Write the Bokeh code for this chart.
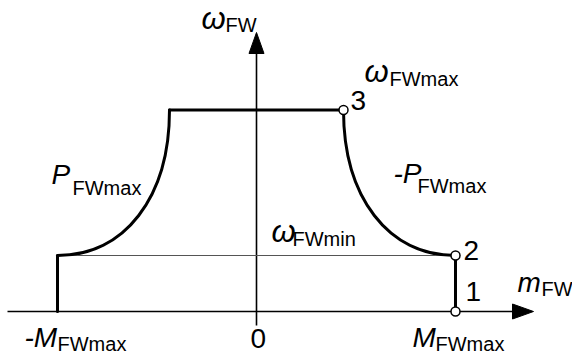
from bokeh.plotting import figure
from bokeh.models import Range1d
from bokeh.core.properties import value
from bokeh.embed import file_html
from bokeh.resources import INLINE

# ---- data (chart units) ----
M_FWMAX = 199.0          # torque limit (points 1, 2)
W_FWMIN = 56.0           # minimum speed (point 2 / omega_min line)
W_FWMAX = 201.5          # maximum speed (point 3)
M_AT_WMAX = 87.0         # torque at maximum speed (point 3)

points_m = [M_FWMAX, M_FWMAX, M_AT_WMAX]
points_w = [0.0, W_FWMIN, W_FWMAX]
point_labels = ["1", "2", "3"]

# axis extents
X_AXIS_MIN, X_AXIS_TIP = -249, 277
Y_AXIS_MIN, Y_AXIS_TIP = -14, 279

# ---- figure ----
p = figure(width=572, height=356, x_range=Range1d(-256, 316), y_range=Range1d(-45, 311),
           output_backend="svg", toolbar_location=None,
           x_axis_location=None, y_axis_location=None, min_border=0)
p.grid.grid_line_color = None
p.outline_line_color = None
p.background_fill_color = "white"

FONT = value("Liberation Sans")

# axes with arrow heads
ARROW_LEN, ARROW_HALF = 21, 7.5
p.line([X_AXIS_MIN, X_AXIS_TIP - ARROW_LEN], [0, 0], line_color="black", line_width=1.6)
p.line([0, 0], [Y_AXIS_MIN, Y_AXIS_TIP - ARROW_LEN], line_color="black", line_width=1.6)
p.patch([X_AXIS_TIP - ARROW_LEN, X_AXIS_TIP, X_AXIS_TIP - ARROW_LEN],
        [ARROW_HALF, 0, -ARROW_HALF], fill_color="black", line_color="black", line_width=1)
p.patch([-ARROW_HALF, 0, ARROW_HALF],
        [Y_AXIS_TIP - ARROW_LEN, Y_AXIS_TIP, Y_AXIS_TIP - ARROW_LEN],
        fill_color="black", line_color="black", line_width=1)

# thin omega_min line
p.line([-M_FWMAX, M_FWMAX], [W_FWMIN, W_FWMIN], line_color="#555555", line_width=1.2)

# thick operating envelope
TH = dict(line_color="black", line_width=3, line_cap="round", line_join="round")
K = 0.6  # curvature of the constant-power curves
dm = M_FWMAX - M_AT_WMAX
dw = W_FWMAX - W_FWMIN
p.line([-M_FWMAX, -M_FWMAX], [0, W_FWMIN], **TH)
p.line([M_FWMAX, M_FWMAX], [0, W_FWMIN], **TH)
p.line([-M_AT_WMAX, M_AT_WMAX], [W_FWMAX, W_FWMAX], **TH)
p.bezier(x0=[-M_FWMAX, M_AT_WMAX], y0=[W_FWMIN, W_FWMAX],
         x1=[-M_AT_WMAX, M_FWMAX], y1=[W_FWMAX, W_FWMIN],
         cx0=[-M_FWMAX + K * dm, M_AT_WMAX], cy0=[W_FWMIN, W_FWMAX - K * dw],
         cx1=[-M_AT_WMAX, M_FWMAX - K * dm], cy1=[W_FWMAX - K * dw, W_FWMIN],
         line_color="black", line_width=3, line_cap="round")

# points
p.scatter(points_m, points_w, size=9, fill_color="white", line_color="black", line_width=1.5)

MAIN = 28
OMEGA = 31
SUB = 20

def txt(x, y, s, size, italic):
    # y is the wanted baseline; text is anchored at its middle
    p.text(x=[x], y=[y + 0.3465 * size], text=[s], text_font=FONT,
           text_font_size=f"{size}px",
           text_font_style="italic" if italic else "normal",
           text_align="left", text_baseline="middle", text_color="black")

def label(x, y, main, sub, dx, dy, size=MAIN):
    txt(x, y, main, size, True)
    txt(x + dx, y + dy, sub, SUB, False)

label(-55, 282, "ω", "FW", 24, -2, OMEGA)
label(M_AT_WMAX + 21, W_FWMAX + 27.5, "ω", "FWmax", 25, -3, OMEGA)
label(15, W_FWMIN + 13, "ω", "FWmin", 21, -3, OMEGA)
label(-205, 127, "P", "FWmax", 21, -10)
label(137, 128, "-P", "FWmax", 24, -9)
label(X_AXIS_TIP - 16, 19, "m", "FW", 24, -3)
label(M_FWMAX - 43, -36, "M", "FWmax", 23, -3)
label(-M_FWMAX - 33, -36, "-M", "FWmax", 33, -3)

# point numbers and origin
txt(M_AT_WMAX + 7, W_FWMAX - 0.5, point_labels[2], MAIN, False)
txt(M_FWMAX + 8, W_FWMIN - 5, point_labels[1], MAIN, False)
txt(M_FWMAX + 10, 10, point_labels[0], MAIN, False)
txt(-6, -37, "0", MAIN, False)

open("out.html", "w").write(file_html(p, INLINE))
